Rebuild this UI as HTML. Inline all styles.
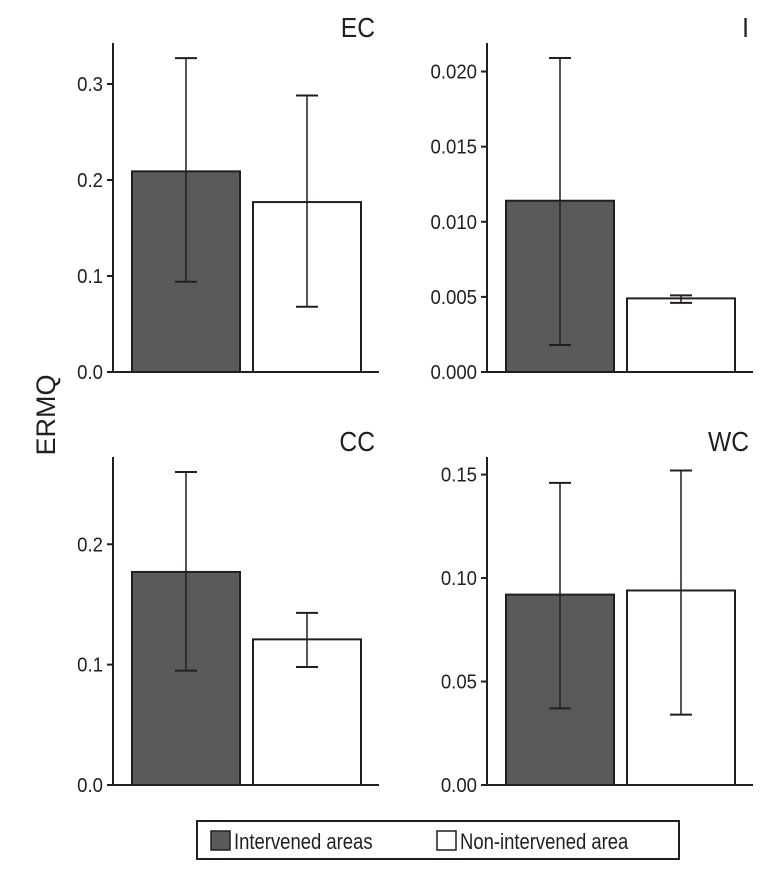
<!DOCTYPE html>
<html><head><meta charset="utf-8"><style>
body{margin:0;background:#fff;}
svg{display:block;font-family:"Liberation Sans",sans-serif;}
</style></head><body>
<svg id="c" width="775" height="870"></svg>
<script>
const panels=["EC","I","CC","WC"];
const series=["Intervened areas","Non-intervened area"];
const means=[[0.209,0.177],[0.0114,0.0049],[0.177,0.121],[0.092,0.094]];
const lows=[[0.094,0.068],[0.0018,0.0046],[0.095,0.098],[0.037,0.034]];
const highs=[[0.327,0.288],[0.0209,0.0051],[0.260,0.143],[0.146,0.152]];
const ticks=[[0,0.1,0.2,0.3],[0,0.005,0.01,0.015,0.02],[0,0.1,0.2],[0,0.05,0.1,0.15]];
const tickLabels=[["0.0","0.1","0.2","0.3"],["0.000","0.005","0.010","0.015","0.020"],["0.0","0.1","0.2"],["0.00","0.05","0.10","0.15"]];
const yMax=[0.3427,0.0219,0.2725,0.1585];
const layout=[{ax:113,base:372,top:43},{ax:487,base:372,top:43},{ax:113,base:785,top:457},{ax:487,base:785,top:457}];
const NS="http://www.w3.org/2000/svg";
const svg=document.getElementById('c');
function el(t,a,p){const e=document.createElementNS(NS,t);for(const k in a)e.setAttribute(k,a[k]);(p||svg).appendChild(e);return e;}
function txt(x,y,size,anchor,p,sx){return el('text',{x:0,y:0,transform:'translate('+x+','+y+') scale('+sx+',1)','text-anchor':anchor,'font-size':size,fill:'#231f20'},p);}
const fills=["#5a5a5c","#ffffff"];
panels.forEach((name,i)=>{
  const L=layout[i];
  const y=v=>L.base-(v/yMax[i])*(L.base-L.top);
  const g=el('g',{});
  
  
  const ya=el('line',{x1:L.ax,y1:L.top,x2:L.ax,y2:L.base,stroke:'#231f20','stroke-width':2},g);
  
  
  const xa=el('line',{x1:L.ax-6,y1:L.base,x2:L.ax+266,y2:L.base,stroke:'#231f20','stroke-width':2},g);
  
  
  ticks[i].forEach((t,j)=>{
    el('line',{x1:L.ax-6,y1:y(t),x2:L.ax,y2:y(t),stroke:'#231f20','stroke-width':2},g);
    const tx=txt(L.ax-10,y(t)+7,20,'end',g,0.93);
    tx.textContent=tickLabels[i][j];
    
    
  });
  const tt=txt(L.ax+262,L.top-6,28,'end',g,0.88);
  tt.textContent=name;
  
  
  series.forEach((s,k)=>{
    const x0=L.ax+19+k*121, w=108, cx=x0+w/2;
    const r=el('rect',{x:x0,y:y(means[i][k]),width:w,height:L.base-y(means[i][k]),fill:fills[k],stroke:'#231f20','stroke-width':2},g);
    
    
    const eb=el('g',{stroke:'#231f20'},g);
    
    
    el('line',{x1:cx,y1:y(highs[i][k]),x2:cx,y2:y(lows[i][k]),'stroke-width':1.5},eb);
    el('line',{x1:cx-11,y1:y(highs[i][k]),x2:cx+11,y2:y(highs[i][k]),'stroke-width':2},eb);
    el('line',{x1:cx-11,y1:y(lows[i][k]),x2:cx+11,y2:y(lows[i][k]),'stroke-width':2},eb);
  });
});
const yl=el('text',{x:0,y:0,transform:'translate(55,415) rotate(-90)','text-anchor':'middle','font-size':27,fill:'#231f20'});
yl.textContent='ERMQ';


const lg=el('g',{});


el('rect',{x:197,y:821,width:482,height:38,fill:'#fff',stroke:'#231f20','stroke-width':2},lg);
series.forEach((s,k)=>{
  const lx=[211,437][k];
  const e=el('g',{},lg);
  
  
  el('rect',{x:lx,y:831,width:19,height:19,fill:fills[k],stroke:'#231f20','stroke-width':1.5},e);
  const t=txt(lx+23,849,22,'start',e,0.84);
  t.textContent=s;
});
</script>
</body></html>
